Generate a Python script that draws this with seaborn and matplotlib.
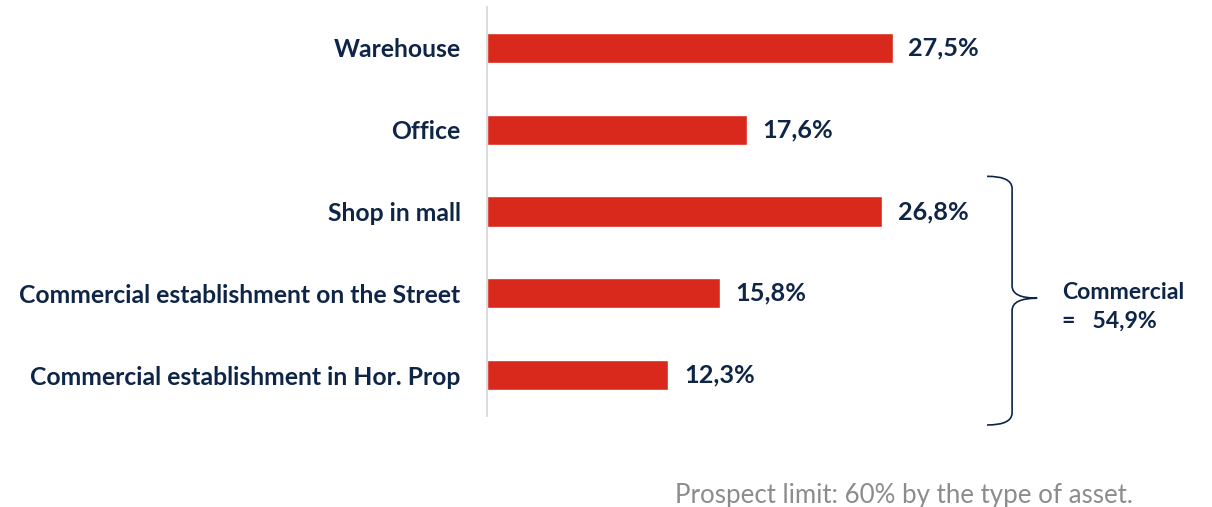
import matplotlib
matplotlib.use("Agg")
import matplotlib.pyplot as plt
from matplotlib.path import Path
from matplotlib.patches import PathPatch
import seaborn as sns
import pandas as pd

categories = ["Warehouse", "Office", "Shop in mall",
              "Commercial establishment on the Street",
              "Commercial establishment in Hor. Prop"]
values = [27.5, 17.6, 26.8, 15.8, 12.3]
value_labels = ["27,5%", "17,6%", "26,8%", "15,8%", "12,3%"]
group_label = "Commercial\n=   54,9%"
footnote = "Prospect limit: 60% by the type of asset."

RED = "#d9291c"
NAVY = "#0f2547"
GREY = "#8c8c8c"

sns.set_theme(style="white")
plt.rcParams["font.family"] = ["Lato", "DejaVu Sans"]

df = pd.DataFrame({"category": categories, "value": values})

fig = plt.figure(figsize=(12.12, 5.07), dpi=100)
ax = fig.add_axes([487 / 1212, 1 - 416 / 507, 708 / 1212, 409 / 507])
sns.barplot(data=df, x="value", y="category", color=RED, saturation=1,
            width=0.37, orient="h", ax=ax)
ax.set_xlim(0, 48)
ax.set_ylim(4.5, -0.5)
ax.set_xlabel("")
ax.set_ylabel("")
ax.set_xticks([])
for s in ["top", "right", "bottom"]:
    ax.spines[s].set_visible(False)
ax.spines["left"].set_color("#d9d9d9")
ax.spines["left"].set_linewidth(1.3)
ax.tick_params(axis="y", length=0, pad=19)
for lab in ax.get_yticklabels():
    lab.set_fontsize(17.8)
    lab.set_fontweight("bold")
    lab.set_color(NAVY)

for i, (v, t) in enumerate(zip(values, value_labels)):
    ax.text(v + 1.05, i, t, va="center", ha="left", fontsize=18.2,
            fontweight="bold", color=NAVY)

# curly brace
x0, x1, x2 = 33.9, 35.6, 37.3
ytop, ymid, ybot = 1.57, 3.06, 4.61
r = 0.15
verts = [
    (x0, ytop), (x1, ytop), (x1, ytop + r),
    (x1, ymid - r), (x1, ymid), (x2, ymid),
    (x1, ymid), (x1, ymid + r),
    (x1, ybot - r), (x1, ybot), (x0, ybot),
]
codes = [Path.MOVETO, Path.CURVE3, Path.CURVE3,
         Path.LINETO, Path.CURVE3, Path.CURVE3,
         Path.CURVE3, Path.CURVE3,
         Path.LINETO, Path.CURVE3, Path.CURVE3]
brace = PathPatch(Path(verts, codes), facecolor="none", edgecolor=NAVY,
                  linewidth=1.2, clip_on=False)
ax.add_patch(brace)
ax.text(39.0, 3.17, group_label, ha="left", va="center", fontsize=16.6,
        fontweight="bold", color=NAVY, linespacing=1.45, clip_on=False)

fig.text(1133 / 1212, 1 - 495 / 507, footnote, ha="right", va="center",
         fontsize=18.6, color=GREY)

fig.savefig("out.png", dpi=100)
